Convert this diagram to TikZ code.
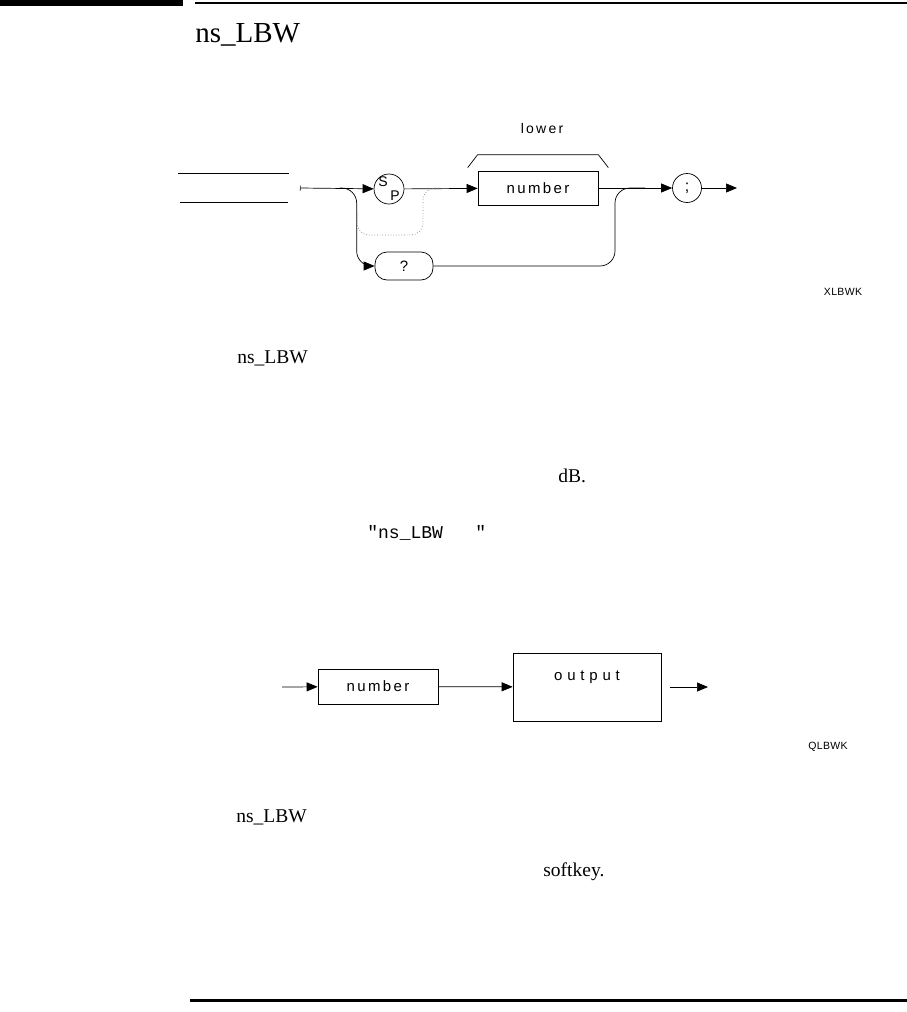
\documentclass[tikz,border=0pt]{standalone}
\usepackage{fontspec}
\setmainfont{Liberation Serif}
\setmonofont{Liberation Mono}
\newfontfamily\plotfont[LetterSpace=16]{Liberation Sans}
\newfontfamily\widefont[LetterSpace=32]{Liberation Sans}
\newfontfamily\tagfont[LetterSpace=3]{Liberation Sans}
\usetikzlibrary{arrows.meta}

\tikzset{
  synbox/.style={draw, minimum width=120pt, minimum height=34pt, inner sep=0pt, font=\plotfont\fontsize{15}{16}\selectfont},
  syncirc/.style={draw, circle, minimum size=30pt, inner sep=0pt, font=\plotfont\fontsize{16}{17}\selectfont},
  plotlabel/.style={inner sep=0pt, font=\plotfont\fontsize{14}{15}\selectfont},
  figtag/.style={inner sep=0pt, font=\tagfont\fontsize{10.5}{12}\selectfont},
  bodytext/.style={anchor=base west, inner sep=0pt, font=\fontsize{19.5}{23}\selectfont},
  looppath/.style={dotted, gray, rounded corners=12pt},
}

\begin{document}
\begin{tikzpicture}[x=1pt, y=-1pt, >={Triangle[length=11pt,width=9pt]}, line width=0.7pt]
\useasboundingbox (0,0) rectangle (907,1012);

% page rules
\fill (0,0) rectangle (183,6);
\draw[line width=2pt] (195,2.5) -- (907,2.5);
\draw[line width=3pt] (190,1000) -- (907,1000);

\node[anchor=base west, inner sep=0pt, font=\fontsize{29}{33}\selectfont] (title) at (195,42) {ns\_LBW};

% syntax diagram
\draw (178,173) -- (289,173);
\draw (180,202) -- (288,202);

\coordinate (in) at (300,188);
\coordinate (split) at (340,188);
\node[syncirc] (sp) at (389,189) {};
\node[plotlabel, font=\plotfont\fontsize{14}{15}\selectfont] (spS) at (383,182) {S};
\node[plotlabel, font=\plotfont\fontsize{14}{15}\selectfont] (spP) at (395,196) {P};
\node[synbox] (num) at (538,188) {number};
\node[plotlabel] (lower) at (542,128) {lower};
\node[syncirc, minimum size=29pt] (semi) at (687,188) {;};
\coordinate (join) at (645,188);
\coordinate (out) at (737,188);
\node[draw, rounded corners=12pt, minimum width=58pt, minimum height=28pt, inner sep=0pt, font=\plotfont\fontsize{15}{16}\selectfont] (qm) at (404,266) {?};
\coordinate (loopL) at (357,212);
\coordinate (loopbot) at (423,235);
\coordinate (loopR) at (440,188);

\draw[{Bar[width=5pt]}->] (in) -- (sp);
\draw[->] (sp) -- (num);
\draw[->] (num) -- (semi);
\draw[->] (semi) -- (out);
\draw[->, rounded corners=15pt] (split) -| ([xshift=-18pt]qm.west) -- (qm.west);
\draw[rounded corners=15pt] (qm.east) -| ([xshift=-30pt]join) -- (join);
\draw[looppath] (loopL) |- (loopbot) |- (loopR);
\draw ([shift={(-10pt,3pt)}]num.north west) -- ([yshift=16pt]num.north west)
  -- ([yshift=16pt]num.north east) -- ([shift={(10pt,3pt)}]num.north east);

\node[figtag] (xtag) at (843,292) {XLBWK};

% body text
\node[bodytext] (cmd1) at (237,363) {ns\_LBW};
\node[bodytext] (unit) at (558,482) {dB.};
\node[bodytext, font=\ttfamily\fontsize{18}{22}\selectfont] (query) at (367,538) {"ns\_LBW\ \ \ "};

% query response diagram
\coordinate (qin) at (282,687);
\node[synbox, minimum height=35pt] (qnum) at (378,686.5) {number};
\node[draw, minimum width=148pt, minimum height=68pt, inner sep=0pt] (qout) at (587,687) {};
\node[plotlabel, font=\widefont\fontsize{15}{16}\selectfont] (qoutlbl) at ([yshift=-25pt]qout.north) {output};
\coordinate (qend) at (708,687);

\draw[->] (qin) -- (qnum);
\draw[->] (qnum) -- (qout);
\draw[->] ([xshift=9pt]qout.east) -- (qend);

\node[figtag] (qtag) at (828,747) {QLBWK};

\node[bodytext] (cmd2) at (236,822) {ns\_LBW};
\node[bodytext] (key) at (543,876) {softkey.};
\end{tikzpicture}
\end{document}
